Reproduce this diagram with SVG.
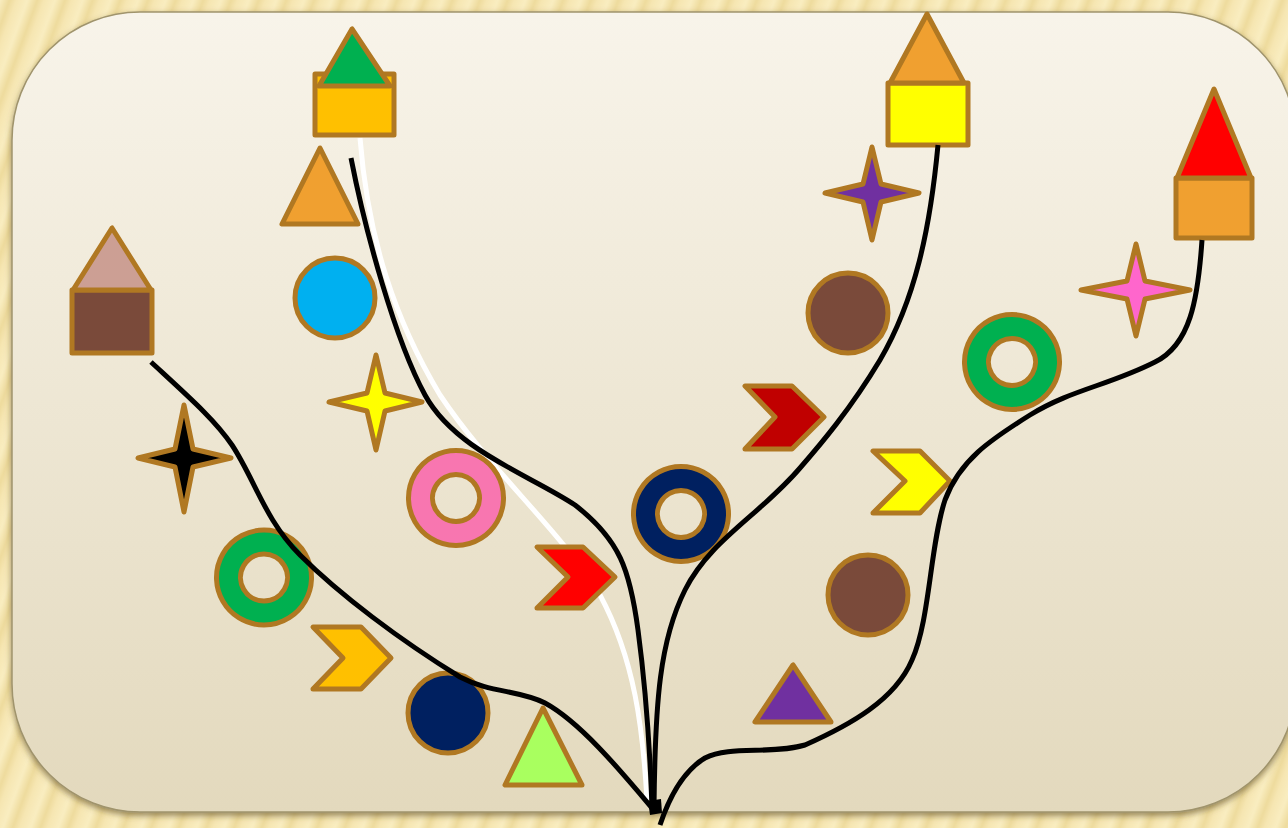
<svg xmlns="http://www.w3.org/2000/svg" width="1288" height="828" viewBox="0 0 1288 828">
<defs>
  <linearGradient id="stripe" x1="0" y1="0" x2="1" y2="0">
    <stop offset="0" stop-color="#f9edc0"/>
    <stop offset="0.35" stop-color="#eedb9d"/>
    <stop offset="0.6" stop-color="#f6e6b2"/>
    <stop offset="1" stop-color="#f9edc0"/>
  </linearGradient>
  <pattern id="wood" patternUnits="userSpaceOnUse" width="26" height="26" patternTransform="rotate(20)">
    <rect width="26" height="26" fill="url(#stripe)"/>
  </pattern>
  <linearGradient id="panelGrad" x1="0" y1="0" x2="0" y2="1">
    <stop offset="0" stop-color="#f8f4ea"/>
    <stop offset="1" stop-color="#e3d9bd"/>
  </linearGradient>
  <filter id="shadow" x="-5%" y="-5%" width="110%" height="115%">
    <feDropShadow dx="0" dy="3" stdDeviation="3" flood-color="#5a4a20" flood-opacity="0.6"/>
  </filter>
  <style>
    .s{stroke:#b07822;stroke-width:5;stroke-linejoin:round}
    .ln{fill:none;stroke:#000;stroke-width:5;stroke-linecap:butt}
    .wl{fill:none;stroke:#fff;stroke-width:5}
  </style>
</defs>
<rect width="1288" height="828" fill="url(#wood)"/>
<rect x="12" y="12" width="1284" height="800" rx="128" ry="128" fill="url(#panelGrad)" stroke="#a0946c" stroke-width="1.5" filter="url(#shadow)"/>

<g id="white-path">
  <path class="wl" d="M360,138 C368,240 395,320 440,395 C490,470 560,530 600,595 C635,660 643,730 647,800"/>
</g>

<g id="house-brown">
  <rect class="s" x="72" y="290" width="80" height="63" fill="#7a4a3a"/>
  <polygon class="s" points="112,228 73,290 151,290" fill="#cc9f94"/>
</g>
<g id="house-green">
  <rect class="s" x="315" y="74" width="79" height="61" fill="#ffc000"/>
  <polygon class="s" points="352,29 319,86 390,86" fill="#00b050"/>
</g>
<g id="house-yellow">
  <rect class="s" x="888" y="83" width="80" height="62" fill="#ffff00"/>
  <polygon class="s" points="927,14 890,83 964,83" fill="#f0a030"/>
</g>
<g id="house-red">
  <rect class="s" x="1176" y="178" width="76" height="60" fill="#f0a030"/>
  <polygon class="s" points="1214,89 1177,178 1251,178" fill="#ff0000"/>
</g>

<g id="tri-orange"><polygon class="s" points="320,148 282,224 358,224" fill="#f0a030"/></g>
<g id="circle-cyan"><circle class="s" cx="335" cy="298" r="40" fill="#00b0f0"/></g>
<g id="star-yellow"><polygon class="s" points="376,355 385,393 422,402 385,411 376,450 367,411 329,402 367,393" fill="#ffff00"/></g>
<g id="star-black"><polygon class="s" points="184,405 193,449 231,458 193,467 184,512 175,467 138,458 175,449" fill="#000"/></g>
<g id="donut-pink"><path class="s" fill-rule="evenodd" fill="#f876b0" d="M456,450.5 a47.5,47.5 0 1,0 0.01,0 Z M456,474.5 a23.5,23.5 0 1,1 -0.01,0 Z"/></g>
<g id="donut-green-left"><path class="s" fill-rule="evenodd" fill="#00b050" d="M264,530 a47.5,47.5 0 1,0 0.01,0 Z M264,554 a23.5,23.5 0 1,1 -0.01,0 Z"/></g>
<g id="chevron-orange"><polygon class="s" points="313,627 361,627 391,658 361,689 313,689 343,658" fill="#ffc000"/></g>
<g id="circle-navy"><circle class="s" cx="448" cy="713" r="40" fill="#002060"/></g>
<g id="tri-lightgreen"><polygon class="s" points="543,708 505,785 582,785" fill="#a9ff5f"/></g>
<g id="chevron-red"><polygon class="s" points="537,547 583,547 615,577 583,608 537,608 568,577" fill="#ff0000"/></g>
<g id="donut-navy"><path class="s" fill-rule="evenodd" fill="#002060" d="M681,466.5 a47.5,47.5 0 1,0 0.01,0 Z M681,490.5 a23.5,23.5 0 1,1 -0.01,0 Z"/></g>
<g id="chevron-darkred"><polygon class="s" points="745,386 792,386 824,417 792,449 745,449 775,417" fill="#c00000"/></g>
<g id="chevron-yellow"><polygon class="s" points="873,451 920,451 950,481 920,513 873,513 905,481" fill="#ffff00"/></g>
<g id="circle-brown-1"><circle class="s" cx="848" cy="313" r="40" fill="#7a4a3a"/></g>
<g id="circle-brown-2"><circle class="s" cx="868" cy="595" r="40" fill="#7a4a3a"/></g>
<g id="tri-purple"><polygon class="s" points="793,665 755,722 831,722" fill="#7030a0"/></g>
<g id="star-purple"><polygon class="s" points="872,147 881,184 919,193 881,202 872,240 863,202 825,193 863,184" fill="#7030a0"/></g>
<g id="star-pink"><polygon class="s" points="1136,244 1145,281 1190,290 1145,299 1136,336 1127,299 1081,290 1127,281" fill="#ff66cc"/></g>
<g id="donut-green-right"><path class="s" fill-rule="evenodd" fill="#00b050" d="M1012,314.5 a47.5,47.5 0 1,0 0.01,0 Z M1012,338.5 a23.5,23.5 0 1,1 -0.01,0 Z"/></g>

<g id="connectors">
  <path class="ln" d="M151,362 C190,398 215,420 232,445 C255,480 265,520 300,555 C340,595 400,640 460,677 C490,693 520,690 545,703 C580,722 620,770 652,808"/>
  <path class="ln" d="M351,158 C365,230 395,340 425,395 C455,450 530,475 575,505 C620,540 630,570 638,630 C646,690 650,750 652,808"/>
  <path class="ln" d="M938,145 C930,230 915,300 880,360 C850,410 820,445 800,468 C760,515 710,540 685,590 C660,640 655,700 654,808"/>
  <path class="ln" d="M1202,240 C1198,300 1190,345 1155,362 C1110,385 1070,390 1030,415 C990,440 960,460 945,500 C930,545 930,620 912,660 C895,700 850,725 805,745 C770,755 730,745 705,758 C685,770 670,795 660,825"/>
  <path d="M648,801 L661,799 L662,813 L650,815 Z" fill="#000"/>
</g>
</svg>
